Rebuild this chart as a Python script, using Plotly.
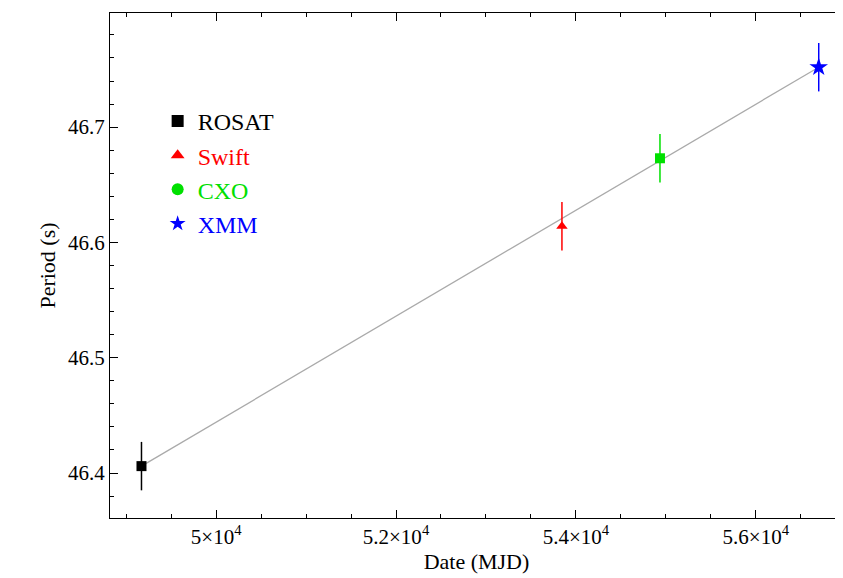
import plotly.graph_objects as go

names = ["ROSAT", "Swift", "CXO", "XMM"]
mjd = [49170, 53845, 54935, 56700]
period = [46.406, 46.614, 46.673, 46.752]
perr = [0.021, 0.021, 0.021, 0.021]
colors = ["black", "red", "#00e000", "blue"]
symbols = ["square", "triangle-up", "square", "star"]
legend_symbols = ["square", "triangle-up", "circle", "star"]
xtickvals = [50000, 52000, 54000, 56000]
xticktext = ["5×10<sup>4</sup>", "5.2×10<sup>4</sup>", "5.4×10<sup>4</sup>", "5.6×10<sup>4</sup>"]
ytickvals = [46.4, 46.5, 46.6, 46.7]

FONT = "Liberation Serif"
fig = go.Figure()
fig.add_trace(go.Scatter(x=[mjd[0], mjd[-1]], y=[period[0], period[-1]], mode="lines",
                         line=dict(color="#aaaaaa", width=1.3), showlegend=False))
for i in range(4):
    fig.add_trace(go.Scatter(x=[mjd[i]], y=[period[i]], mode="markers",
                             marker=dict(symbol=symbols[i], color=colors[i], size=14 if i == 3 else 10),
                             error_y=dict(type="data", array=[perr[i]], color=colors[i], width=0, thickness=1.5),
                             showlegend=False))
    fig.add_trace(go.Scatter(x=[None], y=[None], mode="markers",
                             name=f"<span style='color:{colors[i]}'>{names[i]}</span>",
                             marker=dict(symbol=legend_symbols[i], color=colors[i], size=14 if i == 3 else 10)))

axis_common = dict(showline=True, linecolor="black", linewidth=1, mirror="ticks", ticks="inside",
                   ticklen=8, tickcolor="black", showgrid=False, zeroline=False,
                   tickfont=dict(family=FONT, size=21, color="black"))
fig.update_xaxes(range=[48820, 56970], tickvals=xtickvals, ticktext=xticktext,
                 minor=dict(dtick=500, tick0=48000, ticks="inside", ticklen=4, tickcolor="black"),
                 title=dict(text="Date (MJD)", font=dict(family=FONT, size=22, color="black"), standoff=2),
                 **axis_common)
fig.update_yaxes(range=[46.361, 46.799], tickvals=ytickvals, ticktext=[f"{v:.1f}" for v in ytickvals],
                 minor=dict(dtick=0.02, ticks="inside", ticklen=4, tickcolor="black"),
                 title=dict(text="Period (s)", font=dict(family=FONT, size=22, color="black"), standoff=6),
                 **axis_common)
fig.update_layout(width=843, height=578, margin=dict(l=102, r=8, t=5, b=68),
                  plot_bgcolor="white", paper_bgcolor="white",
                  font=dict(family=FONT, size=22, color="black"),
                  legend=dict(x=0.065, y=0.83, xanchor="left", yanchor="top", bgcolor="rgba(0,0,0,0)",
                              tracegroupgap=0, itemsizing="constant",
                              font=dict(family=FONT, size=24)))
fig.write_html("out.html")
